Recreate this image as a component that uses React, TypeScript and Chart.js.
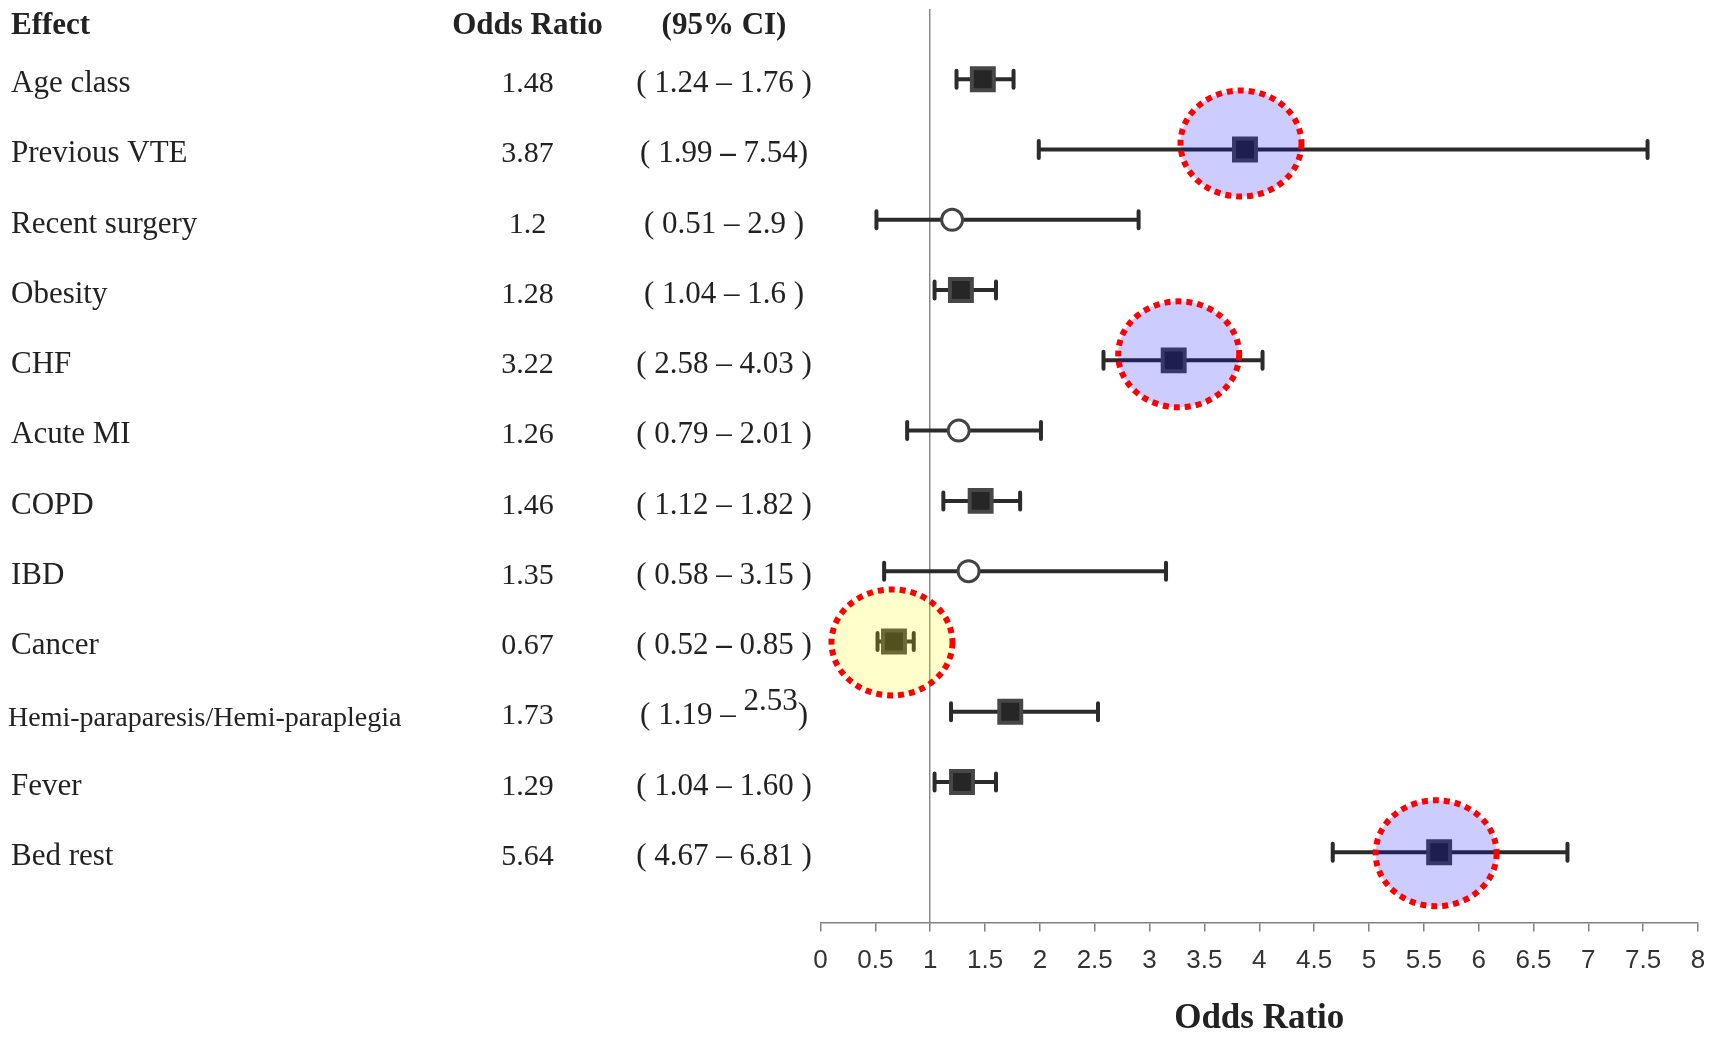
import { useEffect, useRef } from 'react';
import { Chart, registerables } from 'chart.js';

Chart.register(...registerables);

// Risk factors, odds ratios and 95% confidence limits
const effects = [
  'Age class',
  'Previous VTE',
  'Recent surgery',
  'Obesity',
  'CHF',
  'Acute MI',
  'COPD',
  'IBD',
  'Cancer',
  'Hemi-paraparesis/Hemi-paraplegia',
  'Fever',
  'Bed rest',
];
const oddsRatios = [1.48, 3.87, 1.2, 1.28, 3.22, 1.26, 1.46, 1.35, 0.67, 1.73, 1.29, 5.64];
const ciLow = [1.24, 1.99, 0.51, 1.04, 2.58, 0.79, 1.12, 0.58, 0.52, 1.19, 1.04, 4.67];
const ciHigh = [1.76, 7.54, 2.9, 1.6, 4.03, 2.01, 1.82, 3.15, 0.85, 2.53, 1.6, 6.81];
const orLabels = ['1.48', '3.87', '1.2', '1.28', '3.22', '1.26', '1.46', '1.35', '0.67', '1.73', '1.29', '5.64'];
const ciLabels = [
  '( 1.24 – 1.76 )',
  '( 1.99 – 7.54)',
  '( 0.51 – 2.9 )',
  '( 1.04 – 1.6 )',
  '( 2.58 – 4.03 )',
  '( 0.79 – 2.01 )',
  '( 1.12 – 1.82 )',
  '( 0.58 – 3.15 )',
  '( 0.52 – 0.85 )',
  '( 1.19 – 2.53)',
  '( 1.04 – 1.60 )',
  '( 4.67 – 6.81 )',
];
// rows whose upper limit is typeset raised, and rows set with a heavier dash
const raisedUpperRows = [9];
const heavyDashRows = [1, 8];
const headers = ['Effect', 'Odds Ratio', '(95% CI)'];
const xTickLabels = ['0', '0.5', '1', '1.5', '2', '2.5', '3', '3.5', '4', '4.5', '5', '5.5', '6', '6.5', '7', '7.5', '8'];

// circled rows and their tint
const highlightRows = [1, 4, 8, 11];
const highlightTints = ['rgba(0,0,255,0.2)', 'rgba(0,0,255,0.2)', 'rgba(255,255,0,0.2)', 'rgba(0,0,255,0.2)'];
const highlightShift = [[-4, -6], [5, -6], [-2, 1], [-3, 1]];

const SERIF = '"Liberation Serif", "Times New Roman", serif';
const SANS = '"Liberation Sans", Arial, sans-serif';
const INK = '#222222';

const crossesOne = (i: number) => ciLow[i] <= 1 && ciHigh[i] >= 1;

const whiskerPlugin = {
  id: 'ciWhiskers',
  beforeDatasetsDraw(chart: any) {
    const { ctx, scales } = chart;
    const xs = scales.x;
    const ys = scales.y;
    ctx.save();
    ctx.strokeStyle = '#2b2b2b';
    ctx.lineWidth = 4;
    effects.forEach((_, i) => {
      const py = ys.getPixelForValue(i);
      const x1 = xs.getPixelForValue(ciLow[i]);
      const x2 = xs.getPixelForValue(ciHigh[i]);
      ctx.lineCap = 'butt';
      ctx.beginPath();
      ctx.moveTo(x1, py);
      ctx.lineTo(x2, py);
      ctx.stroke();
      ctx.lineCap = 'round';
      ctx.beginPath();
      ctx.moveTo(x1, py - 8.5);
      ctx.lineTo(x1, py + 8.5);
      ctx.moveTo(x2, py - 8.5);
      ctx.lineTo(x2, py + 8.5);
      ctx.stroke();
    });
    ctx.restore();
  },
};

const highlightPlugin = {
  id: 'rowHighlights',
  afterDatasetsDraw(chart: any) {
    const { ctx, scales } = chart;
    ctx.save();
    highlightRows.forEach((r, k) => {
      const cx = scales.x.getPixelForValue(oddsRatios[r]) + highlightShift[k][0];
      const cy = scales.y.getPixelForValue(r) + highlightShift[k][1];
      ctx.beginPath();
      ctx.ellipse(cx, cy, 60.5, 53, 0, 0, Math.PI * 2);
      ctx.fillStyle = highlightTints[k];
      ctx.fill();
      ctx.setLineDash([6, 5]);
      ctx.lineWidth = 6;
      ctx.strokeStyle = '#ff0000';
      ctx.stroke();
    });
    ctx.restore();
  },
};

const tablePlugin = {
  id: 'effectTable',
  afterDraw(chart: any) {
    const { ctx, scales } = chart;
    const ys = scales.y;
    const orX = 527.5;
    const ciX = 724;
    const regular = `31px ${SERIF}`;
    ctx.save();
    ctx.fillStyle = INK;
    ctx.textBaseline = 'alphabetic';

    ctx.font = `bold 31px ${SERIF}`;
    ctx.textAlign = 'left';
    ctx.fillText(headers[0], 11, 34);
    ctx.textAlign = 'center';
    ctx.fillText(headers[1], orX, 34);
    ctx.fillText(headers[2], ciX, 34);

    effects.forEach((name, i) => {
      const base = ys.getPixelForValue(i) + 12.7;
      const long = name.length > 20;
      ctx.font = long ? `28px ${SERIF}` : regular;
      ctx.textAlign = 'left';
      ctx.fillText(name, long ? 8 : 11, long ? base + 2 : base);

      ctx.font = `30px ${SERIF}`;
      ctx.textAlign = 'center';
      ctx.fillText(orLabels[i], orX, base);

      // confidence interval: pieces laid out left to right, centred on the column
      const label = ciLabels[i];
      const m = label.match(/^(.*?)(–)( )(\S+?)(\s*\))$/);
      if (!m) {
        ctx.font = regular;
        ctx.fillText(label, ciX, base);
        return;
      }
      const pieces = [
        { t: m[1], font: regular, dy: 0 },
        { t: m[2], font: heavyDashRows.includes(i) ? `bold 31px ${SERIF}` : regular, dy: 0 },
        { t: m[3], font: regular, dy: 0 },
        { t: m[4], font: regular, dy: raisedUpperRows.includes(i) ? -14 : 0 },
        { t: m[5], font: regular, dy: 0 },
      ];
      const widths = pieces.map((p) => {
        ctx.font = p.font;
        return ctx.measureText(p.t).width;
      });
      let x = ciX - widths.reduce((a, b) => a + b, 0) / 2;
      ctx.textAlign = 'left';
      pieces.forEach((p, k) => {
        ctx.font = p.font;
        ctx.fillText(p.t, x, base + p.dy);
        x += widths[k];
      });
    });
    ctx.restore();
  },
};

export default function App() {
  const canvasRef = useRef<HTMLCanvasElement | null>(null);

  useEffect(() => {
    const canvas = canvasRef.current;
    if (!canvas) return;
    const chart = new Chart(canvas, {
      type: 'scatter',
      data: {
        datasets: [
          {
            data: oddsRatios.map((v, i) => ({ x: v, y: i })),
            pointStyle: (c: any) => (crossesOne(c.dataIndex) ? 'circle' : 'rect'),
            pointRadius: (c: any) => (crossesOne(c.dataIndex) ? 10.5 : 15.5),
            pointHoverRadius: (c: any) => (crossesOne(c.dataIndex) ? 10.5 : 15.5),
            backgroundColor: (c: any) => (crossesOne(c.dataIndex) ? '#ffffff' : '#262626'),
            borderColor: (c: any) => (crossesOne(c.dataIndex) ? '#444444' : '#474747'),
            borderWidth: (c: any) => (crossesOne(c.dataIndex) ? 3 : 4),
            pointBorderWidth: (c: any) => (crossesOne(c.dataIndex) ? 3 : 4),
          } as any,
        ],
      },
      options: {
        animation: false,
        responsive: false,
        events: [],
        layout: { autoPadding: false, padding: { left: 820.5, top: 9, right: 22, bottom: 0 } },
        plugins: {
          legend: { display: false },
          tooltip: { enabled: false },
        },
        scales: {
          x: {
            type: 'linear',
            min: 0,
            max: 8,
            afterFit: (s: any) => {
              s.height = 114.5;
            },
            ticks: {
              stepSize: 0.5,
              autoSkip: false,
              maxRotation: 0,
              padding: 14,
              color: '#333333',
              font: { family: SANS, size: 26 },
              callback: (_v: any, i: number) => xTickLabels[i],
            },
            grid: {
              color: (c: any) => (c.tick && c.tick.value === 1 ? '#8a8a8a' : 'rgba(0,0,0,0)'),
              lineWidth: 1.5,
              tickColor: '#808080',
              tickLength: 9,
              tickWidth: 1.5,
            },
            border: { color: '#808080', width: 1.5 },
            title: {
              display: true,
              text: 'Odds Ratio',
              color: INK,
              font: { family: SERIF, size: 35, weight: 'bold', lineHeight: 1 },
              padding: { top: 0, bottom: 1 },
            },
          },
          y: {
            type: 'linear',
            min: -1,
            max: 12,
            reverse: true,
            display: false,
          },
        },
      } as any,
      plugins: [whiskerPlugin, highlightPlugin, tablePlugin],
    });
    return () => chart.destroy();
  }, []);

  return (
    <div style={{ position: 'absolute', left: 0, top: 0, width: 1720, height: 1037, background: '#ffffff' }}>
      <canvas ref={canvasRef} width={1720} height={1037} style={{ display: 'block' }} />
    </div>
  );
}
